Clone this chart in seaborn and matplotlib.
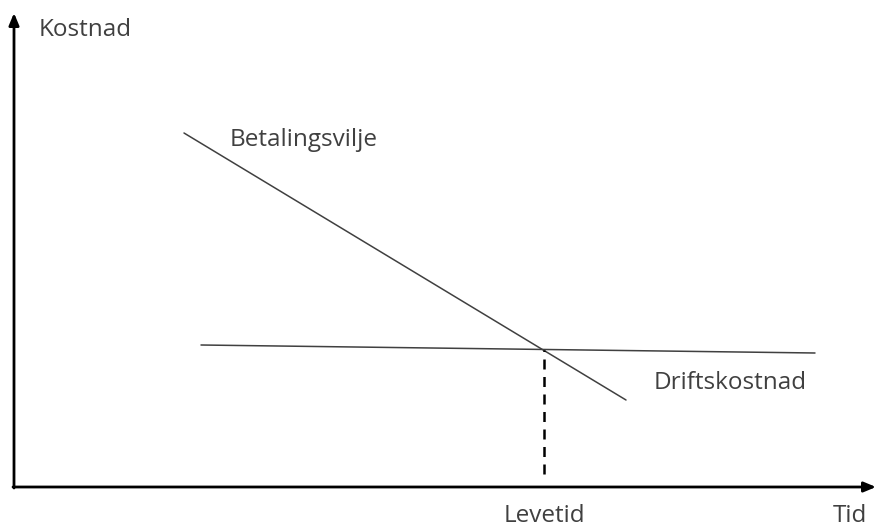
import matplotlib
matplotlib.use("Agg")
import matplotlib.pyplot as plt
import pandas as pd
import seaborn as sns

# curve end points (x = time, y = cost, in the drawing's own units)
betaling_x = [184, 626]
betaling_y = [398, 131]
drift_x = [201, 815]
drift_y = [186, 178]
levetid_x = [544, 544]
levetid_y = [57, 181]

labels = ["Betalingsvilje", "Driftskostnad"]
label_x = [230, 654]
label_y = [391, 148]

sns.set_theme(style="white")
plt.rcParams["font.family"] = ["Open Sans", "DejaVu Sans"]

fig = plt.figure(figsize=(8.76, 5.31), dpi=100)
ax = fig.add_axes([0, 0, 1, 1])
ax.set_xlim(0, 876)
ax.set_ylim(0, 531)
ax.axis("off")

line_color = "#404040"
sns.lineplot(x=betaling_x, y=betaling_y, ax=ax, color=line_color, linewidth=1.1)
sns.lineplot(x=drift_x, y=drift_y, ax=ax, color=line_color, linewidth=1.1)
ax.plot(levetid_x, levetid_y, color="black", linewidth=1.8, dashes=(4, 3))

# axes with arrows
arrow = dict(arrowstyle="-|>,head_length=0.6,head_width=0.25", color="black",
             lw=2, shrinkA=0, shrinkB=0)
ax.annotate("", xy=(14, 518), xytext=(14, 43), arrowprops=arrow)
ax.annotate("", xy=(876, 44), xytext=(13, 44), arrowprops=arrow)

text_color = "#404040"
fs = 17.5
for name, x, y in zip(labels, label_x, label_y):
    ax.text(x, y, name, fontsize=fs, color=text_color, va="center", ha="left")
ax.text(39, 501, "Kostnad", fontsize=fs, color=text_color, va="center")
ax.text(850, 3, "Tid", fontsize=fs, color=text_color, va="bottom", ha="center")
ax.text(544, 3, "Levetid", fontsize=fs, color=text_color, va="bottom", ha="center")

fig.savefig("out.png", dpi=100)
